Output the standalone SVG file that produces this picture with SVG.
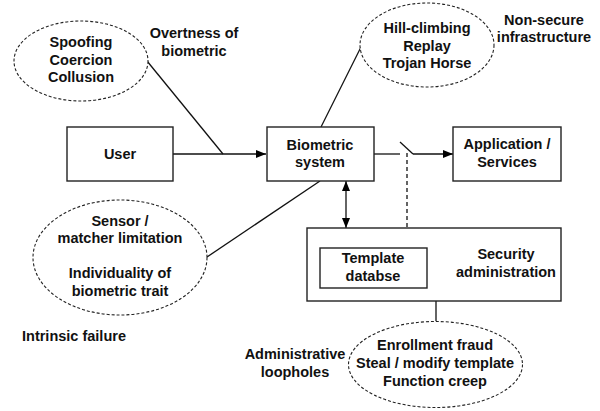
<svg xmlns="http://www.w3.org/2000/svg" width="600" height="411" viewBox="0 0 600 411">
<defs>
<marker id="ah" markerWidth="10" markerHeight="8" refX="10" refY="4" orient="auto-start-reverse" markerUnits="userSpaceOnUse">
<path d="M0,0 L10,4 L0,8 Z" fill="#000"/>
</marker>
</defs>
<style>
text{font-family:"Liberation Sans",Arial,sans-serif;font-weight:bold;font-size:14.5px;fill:#111;text-anchor:middle;dominant-baseline:central}
.box{fill:#fff;stroke:#222;stroke-width:1.4}
.ell{fill:#fff;stroke:#222;stroke-width:1.1;stroke-dasharray:3,2}
.ln{fill:none;stroke:#111;stroke-width:1.3}
.dash{fill:none;stroke:#111;stroke-width:1.3;stroke-dasharray:4,3}
</style>
<rect width="600" height="411" fill="#fff"/>
<g id="connectors">
<line class="ln" x1="173" y1="154" x2="266" y2="154" marker-end="url(#ah)"/>
<line class="ln" x1="147" y1="61" x2="223" y2="154"/>
<line class="ln" x1="361" y1="47" x2="321" y2="127"/>
<line class="ln" x1="207" y1="257" x2="320" y2="181"/>
<line class="ln" x1="374" y1="154" x2="400" y2="154"/>
<line class="ln" x1="400" y1="142" x2="413" y2="154"/>
<line class="ln" x1="413" y1="154" x2="453" y2="154" marker-end="url(#ah)"/>
<line class="dash" x1="407" y1="153" x2="407" y2="228"/>
<line class="ln" x1="346" y1="181" x2="346" y2="228" marker-start="url(#ah)" marker-end="url(#ah)"/>
<line class="ln" x1="436" y1="301" x2="436" y2="321"/>
</g>
<g id="user">
<rect class="box" x="67" y="127" width="106" height="54"/>
<text x="120" y="154">User</text>
</g>
<g id="biometric-system">
<rect class="box" x="267" y="127" width="107" height="54"/>
<text x="320" y="145">Biometric</text>
<text x="320" y="162">system</text>
</g>
<g id="application">
<rect class="box" x="453" y="127" width="108" height="54"/>
<text x="507" y="144">Application /</text>
<text x="507" y="162">Services</text>
</g>
<g id="security-admin">
<rect class="box" x="307" y="228" width="254" height="73"/>
<text x="506" y="254">Security</text>
<text x="506" y="272">administration</text>
</g>
<g id="template-db">
<rect class="box" x="320" y="248" width="107" height="40"/>
<text x="373" y="258">Template</text>
<text x="373" y="276">databse</text>
</g>
<g id="ellipse-user">
<ellipse class="ell" cx="81" cy="61" rx="67" ry="40"/>
<text x="81" y="42">Spoofing</text>
<text x="81" y="60">Coercion</text>
<text x="81" y="77">Collusion</text>
</g>
<g id="ellipse-infra">
<ellipse class="ell" cx="427" cy="45" rx="67" ry="42"/>
<text x="427" y="28">Hill-climbing</text>
<text x="427" y="46">Replay</text>
<text x="427" y="63">Trojan Horse</text>
</g>
<g id="ellipse-intrinsic">
<ellipse class="ell" cx="120" cy="257.5" rx="87" ry="57.5"/>
<text x="120" y="221">Sensor /</text>
<text x="120" y="238">matcher limitation</text>
<text x="120" y="273">Individuality of</text>
<text x="120" y="291">biometric trait</text>
</g>
<g id="ellipse-admin">
<ellipse class="ell" cx="435.5" cy="364.5" rx="87" ry="43"/>
<text x="435" y="345">Enrollment fraud</text>
<text x="435" y="363">Steal / modify template</text>
<text x="435" y="381">Function creep</text>
</g>
<g id="labels">
<text x="194" y="33">Overtness of</text>
<text x="194" y="51">biometric</text>
<text x="544" y="20">Non-secure</text>
<text x="544" y="37">infrastructure</text>
<text x="74" y="336">Intrinsic failure</text>
<text x="295" y="354">Administrative</text>
<text x="295" y="372">loopholes</text>
</g>
</svg>
